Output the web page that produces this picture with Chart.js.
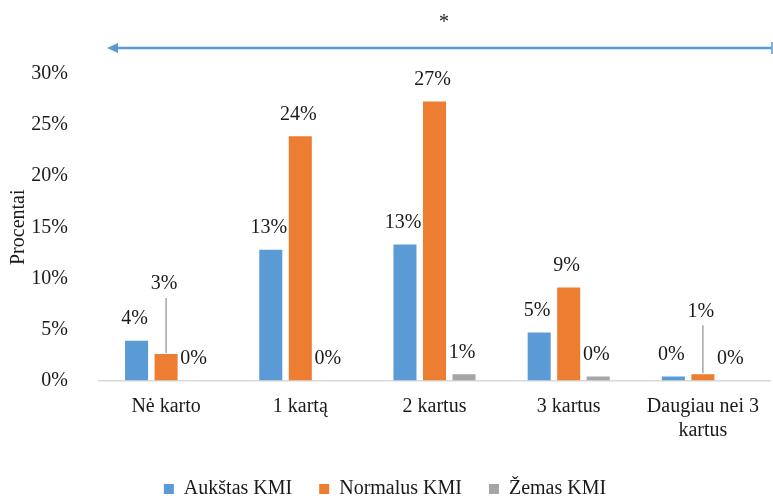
<!DOCTYPE html>
<html>
<head>
<meta charset="utf-8">
<script src="https://cdn.jsdelivr.net/npm/chart.js@4.4.1/dist/chart.umd.min.js"></script>
<style>
  html, body { margin: 0; padding: 0; background: #fff; }
  #wrap { width: 773px; height: 500px; position: relative; }
</style>
</head>
<body>
<div id="wrap"><canvas id="chart"></canvas></div>
<script>
// Duomenys
const categories = ['Nė karto', '1 kartą', '2 kartus', '3 kartus', ['Daugiau nei 3', 'kartus']];
const seriesNames = ['Aukštas KMI', 'Normalus KMI', 'Žemas KMI'];
const aukstas = [3.9, 12.8, 13.3, 4.7, 0.4];
const normalus = [2.6, 23.9, 27.3, 9.1, 0.6];
const zemas = [0, 0, 0.6, 0.4, 0];
const yTicks = [0, 5, 10, 15, 20, 25, 30];

const colors = ['#5B9BD5', '#ED7D31', '#A5A5A5'];
const FONT = "'Liberation Serif', 'Times New Roman', serif";

// kai kurios etiketės pakeltos su linija (dataset, index, pakėlimas px)
const liftedLabels = [
  { ds: 1, idx: 0, lift: 48 },
  { ds: 1, idx: 4, lift: 41 }
];

// etiketės virš stulpelių
const barLabels = {
  id: 'barLabels',
  afterDatasetsDraw(chart) {
    const ctx = chart.ctx;
    ctx.save();
    ctx.font = '20px ' + FONT;
    ctx.fillStyle = '#1a1a1a';
    ctx.textAlign = 'center';
    ctx.textBaseline = 'middle';
    chart.data.datasets.forEach((ds, di) => {
      const meta = chart.getDatasetMeta(di);
      meta.data.forEach((bar, i) => {
        const txt = Math.round(ds.data[i]) + '%';
        const l = liftedLabels.find(o => o.ds === di && o.idx === i);
        let y = bar.y - 22;
        if (l) {
          y -= l.lift;
          ctx.strokeStyle = '#A6A6A6';
          ctx.lineWidth = 1.5;
          ctx.beginPath();
          ctx.moveTo(bar.x, y + 14);
          ctx.lineTo(bar.x, bar.y - 1);
          ctx.stroke();
        }
        ctx.fillText(txt, bar.x - 2, y);
      });
    });
    ctx.restore();
  }
};

// rodyklė ir žvaigždutė viršuje
const topArrow = {
  id: 'topArrow',
  afterDraw(chart) {
    const ctx = chart.ctx;
    const y = 48;
    ctx.save();
    ctx.strokeStyle = '#5B9BD5';
    ctx.fillStyle = '#5B9BD5';
    ctx.lineWidth = 2.5;
    ctx.beginPath();
    ctx.moveTo(114, y);
    ctx.lineTo(772, y);
    ctx.stroke();
    ctx.beginPath();
    ctx.moveTo(107, y);
    ctx.lineTo(118, y - 5);
    ctx.lineTo(118, y + 5);
    ctx.closePath();
    ctx.fill();
    ctx.lineWidth = 1.5;
    ctx.beginPath();
    ctx.moveTo(772, y - 6);
    ctx.lineTo(772, y + 6);
    ctx.stroke();
    ctx.fillStyle = '#1a1a1a';
    ctx.font = '20px ' + FONT;
    ctx.textAlign = 'center';
    ctx.textBaseline = 'alphabetic';
    ctx.fillText('*', 444, 28);
    ctx.restore();
  }
};

const chart = new Chart(document.getElementById('chart'), {
  type: 'bar',
  data: {
    labels: categories,
    datasets: [
      { label: seriesNames[0], data: aukstas, backgroundColor: colors[0] },
      { label: seriesNames[1], data: normalus, backgroundColor: colors[1] },
      { label: seriesNames[2], data: zemas, backgroundColor: colors[2] }
    ]
  },
  options: {
    responsive: true,
    maintainAspectRatio: false,
    animation: false,
    categoryPercentage: 0.66,
    barPercentage: 0.78,
    layout: { padding: { top: 74, left: 0, right: 3, bottom: -9 } },
    plugins: {
      legend: {
        position: 'bottom',
        labels: {
          boxWidth: 10,
          boxHeight: 10,
          padding: 27,
          color: '#1a1a1a',
          font: { family: FONT, size: 20 }
        }
      },
      tooltip: { enabled: false }
    },
    scales: {
      x: {
        grid: { display: false },
        border: { display: true, color: '#D9D9D9', width: 1.5 },
        ticks: {
          color: '#1a1a1a',
          font: { family: FONT, size: 20 },
          maxRotation: 0,
          autoSkip: false,
          padding: 6
        },
        afterFit(scale) { scale.height = 71.5; }
      },
      y: {
        min: 0,
        max: 30,
        afterBuildTicks(scale) { scale.ticks = yTicks.map(v => ({ value: v })); },
        grid: { display: false },
        border: { display: false },
        ticks: {
          color: '#1a1a1a',
          font: { family: FONT, size: 20 },
          padding: 23,
          callback: v => v + '%'
        },
        title: {
          display: true,
          text: 'Procentai',
          color: '#1a1a1a',
          font: { family: FONT, size: 20 },
          padding: { top: 7, bottom: 0 }
        },
        afterFit(scale) { scale.width = 99; }
      }
    }
  },
  plugins: [barLabels, topArrow]
});
</script>
</body>
</html>
